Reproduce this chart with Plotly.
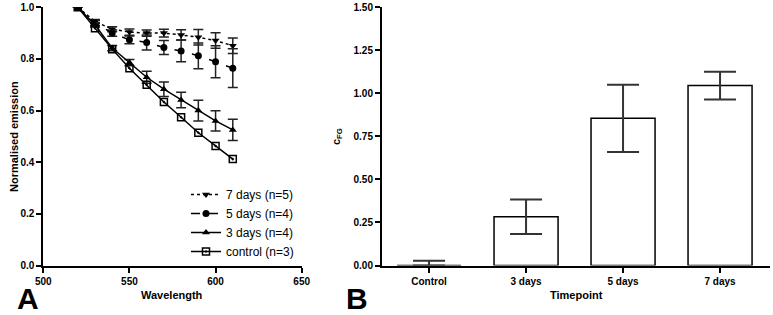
import plotly.graph_objects as go

# ---- Panel A data ----
wavelength = [520, 530, 540, 550, 560, 570, 580, 590, 600, 610]
days7 = [1.0, 0.945, 0.915, 0.904, 0.900, 0.900, 0.893, 0.884, 0.871, 0.851]
days7_err = [0, 0.008, 0.010, 0.012, 0.012, 0.015, 0.020, 0.030, 0.030, 0.030]
days5 = [1.0, 0.939, 0.900, 0.874, 0.864, 0.844, 0.831, 0.812, 0.789, 0.764]
days5_err = [0, 0.010, 0.012, 0.015, 0.029, 0.027, 0.042, 0.050, 0.062, 0.075]
days3 = [1.0, 0.932, 0.842, 0.786, 0.729, 0.683, 0.641, 0.600, 0.560, 0.525]
days3_err = [0, 0.008, 0.010, 0.012, 0.023, 0.028, 0.030, 0.040, 0.039, 0.041]
control = [1.0, 0.919, 0.838, 0.764, 0.700, 0.633, 0.574, 0.514, 0.463, 0.412]

# ---- Panel B data ----
timepoints = ["Control", "3 days", "5 days", "7 days"]
cfg = [0.0, 0.283, 0.855, 1.045]
cfg_err_plus = [0.027, 0.10, 0.195, 0.08]
cfg_err_minus = [0.0, 0.10, 0.195, 0.08]

W, H = 773, 315
FONT = "Arial, Liberation Sans, sans-serif"

def px_x(x):
    return x / W

def px_y(y):
    return 1 - y / H

fig = go.Figure()

series = [
    ("7 days (n=5)", days7, days7_err, "triangle-down", "dot"),
    ("5 days (n=4)", days5, days5_err, "circle", "dash"),
    ("3 days (n=4)", days3, days3_err, "triangle-up", "solid"),
]
for name, ys, errs, sym, dash in series:
    fig.add_trace(go.Scatter(
        x=wavelength, y=ys, name=name, mode="lines+markers",
        line=dict(color="black", width=1.5, dash=dash),
        marker=dict(symbol=sym, size=7, color="black"),
        error_y=dict(type="data", array=errs, color="#222", thickness=1.5, width=5),
        xaxis="x", yaxis="y",
    ))
fig.add_trace(go.Scatter(
    x=wavelength, y=control, name="control (n=3)", mode="lines+markers",
    line=dict(color="black", width=1.5),
    marker=dict(symbol="square-open-dot", size=7, color="black",
                line=dict(width=1.5, color="black")),
    xaxis="x", yaxis="y",
))

fig.add_trace(go.Bar(
    x=timepoints, y=cfg, width=0.66, showlegend=False,
    marker=dict(color="white", line=dict(color="black", width=1.5)),
    error_y=dict(type="data", array=cfg_err_plus, arrayminus=cfg_err_minus,
                 symmetric=False, color="#333", thickness=2, width=16),
    xaxis="x2", yaxis="y2",
))

axis_common = dict(
    showline=True, linecolor="black", linewidth=2, showgrid=False, zeroline=False,
    ticks="outside", ticklen=5, tickwidth=2, tickcolor="black", automargin=False,
    tickfont=dict(family=FONT, size=10, color="black", weight="bold"),
)

y_dom = [px_y(265.5), px_y(7.3)]

fig.update_layout(
    width=W, height=H,
    margin=dict(l=0, r=0, t=0, b=0, pad=0, autoexpand=False),
    paper_bgcolor="white", plot_bgcolor="white",
    font=dict(family=FONT, color="black"),
    xaxis=dict(domain=[px_x(43.3), px_x(301.7)], range=[500, 650],
               tickvals=[500, 550, 600, 650], anchor="y", **axis_common),
    yaxis=dict(domain=y_dom, range=[0, 1.0], tickvals=[0, 0.2, 0.4, 0.6, 0.8, 1.0],
               tickformat=".1f", anchor="x", **axis_common),
    xaxis2=dict(domain=[px_x(382), px_x(770)], range=[-0.485, 3.515],
                type="category", anchor="y2", **axis_common),
    yaxis2=dict(domain=y_dom, range=[0, 1.5], tickvals=[0, 0.25, 0.5, 0.75, 1.0, 1.25, 1.5],
                tickformat=".2f", anchor="x2", **axis_common),
    legend=dict(x=px_x(186), y=px_y(180), xanchor="left", yanchor="top",
                bgcolor="rgba(0,0,0,0)", font=dict(family=FONT, size=12, color="black"),
                tracegroupgap=0),
    showlegend=True,
)

ann = [
    dict(text="<b>Normalised emission</b>", x=px_x(14), y=px_y(137), textangle=-90, size=11),
    dict(text="<b>Wavelength</b>", x=px_x(172), y=px_y(295), textangle=0, size=11),
    dict(text="<b>c<sub>FG</sub></b>", x=px_x(337), y=px_y(137), textangle=-90, size=11),
    dict(text="<b>Timepoint</b>", x=px_x(576), y=px_y(295), textangle=0, size=11),
    dict(text="<b>A</b>", x=px_x(28), y=px_y(298), textangle=0, size=30),
    dict(text="<b>B</b>", x=px_x(357), y=px_y(298), textangle=0, size=30),
]
for a in ann:
    fig.add_annotation(text=a["text"], x=a["x"], y=a["y"], xref="paper", yref="paper",
                       xanchor="center", yanchor="middle", showarrow=False,
                       textangle=a["textangle"],
                       font=dict(family=FONT, size=a["size"], color="black"))

fig.write_html("out.html", config={"displayModeBar": False},
               post_script="document.body.style.margin='0';document.body.style.overflow='hidden';")
